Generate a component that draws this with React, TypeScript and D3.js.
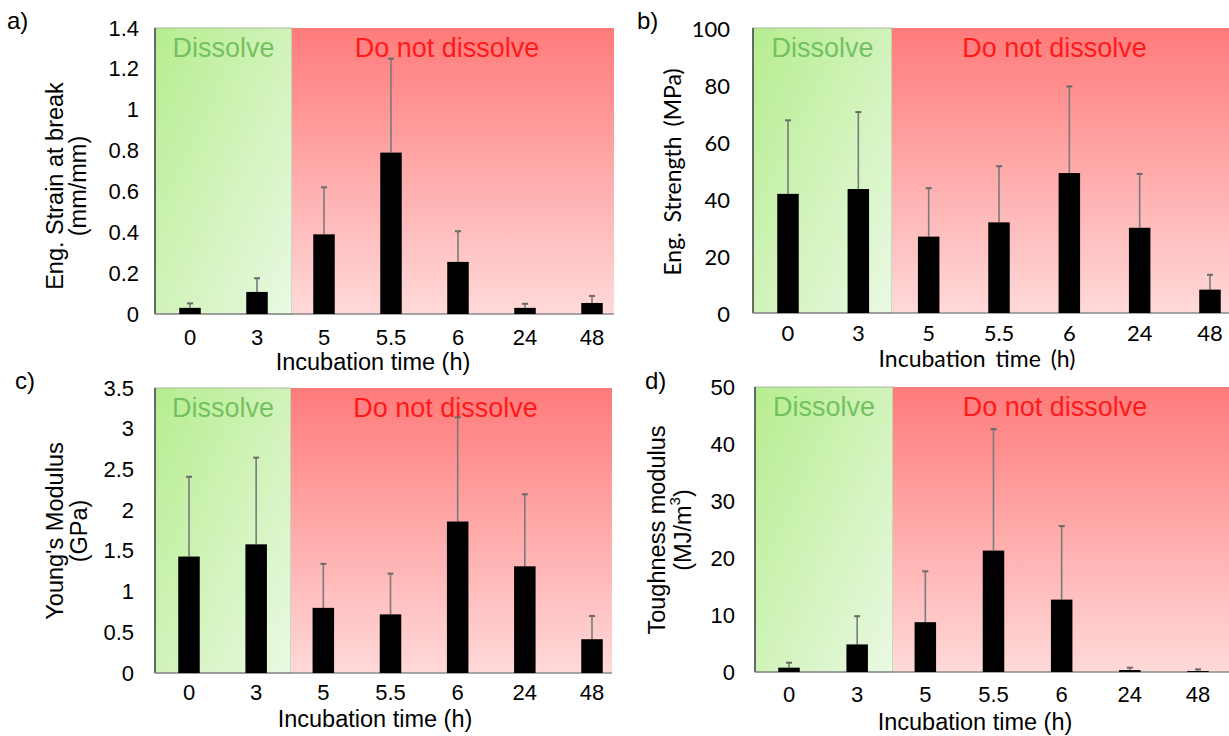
import React from "react";
import * as d3 from "d3";

const categories = ["0", "3", "5", "5.5", "6", "24", "48"];

const strainMean = [0.03, 0.108, 0.39, 0.79, 0.255, 0.03, 0.054];
const strainSd = [0.022, 0.067, 0.23, 0.46, 0.15, 0.02, 0.034];

const strengthMean = [41.8, 43.5, 26.8, 31.8, 49.1, 29.9, 8.2];
const strengthSd = [25.8, 27.0, 17.0, 19.7, 30.4, 18.9, 5.2];

const modulusMean = [1.43, 1.58, 0.8, 0.72, 1.86, 1.31, 0.415];
const modulusSd = [0.98, 1.065, 0.54, 0.5, 1.28, 0.885, 0.285];

const toughMean = [0.76, 4.84, 8.74, 21.3, 12.7, 0.35, 0.17];
const toughSd = [0.87, 4.95, 8.92, 21.3, 12.9, 0.41, 0.3];

const strainTicks = [0, 0.2, 0.4, 0.6, 0.8, 1, 1.2, 1.4];
const strengthTicks = [0, 20, 40, 60, 80, 100];
const modulusTicks = [0, 0.5, 1, 1.5, 2, 2.5, 3, 3.5];
const toughTicks = [0, 10, 20, 30, 40, 50];

const dissolveText = "Dissolve";
const notDissolveText = "Do not dissolve";
const xTitle = "Incubation time (h)";

type PanelProps = {
  id: string;
  letter: string;
  letterPos: [number, number];
  left: number;
  right: number;
  top: number;
  bottom: number;
  greenEnd: number;
  barRange: [number, number];
  tickRight: number;
  tickY: number;
  xTitlePos: [number, number];
  yTitle: React.ReactNode[];
  yTitleX: number[];
  yTitleCenter: number;
  ticks: number[];
  means: number[];
  sds: number[];
  font: string;
  tickSize: number;
  titleSize: number;
  wordSpacing?: number;
};

const SANS = "Liberation Sans, Arial, sans-serif";

function Panel(p: PanelProps) {
  const yMax = p.ticks[p.ticks.length - 1];
  const y = d3.scaleLinear().domain([0, yMax]).range([p.bottom, p.top]);
  const x = d3.scalePoint<string>().domain(categories).range(p.barRange);
  const bw = 21.5;
  const capW = 6;
  return (
    <g>
      <defs>
        <linearGradient id={`g-${p.id}`} x1="0" y1="0" x2="1" y2="1">
          <stop offset="0" stopColor="#b6ed8f" />
          <stop offset="1" stopColor="#eaf9e3" />
        </linearGradient>
        <linearGradient id={`r-${p.id}`} x1="0" y1="0" x2="0" y2="1">
          <stop offset="0" stopColor="#ff7b7b" />
          <stop offset="1" stopColor="#ffd9d9" />
        </linearGradient>
      </defs>
      <rect
        x={p.left}
        y={p.top}
        width={p.greenEnd - p.left}
        height={p.bottom - p.top}
        fill={`url(#g-${p.id})`}
        stroke="#a9b8a0"
        strokeWidth={1}
      />
      <rect
        x={p.greenEnd}
        y={p.top}
        width={p.right - p.greenEnd}
        height={p.bottom - p.top}
        fill={`url(#r-${p.id})`}
      />
      <line x1={p.left} x2={p.left} y1={p.top} y2={p.bottom} stroke="#444" strokeWidth={1.5} />
      <line x1={p.left} x2={p.right} y1={p.bottom} y2={p.bottom} stroke="#8a8a8a" strokeWidth={1.5} />
      <text
        x={(p.left + p.greenEnd) / 2}
        y={p.top + 20}
        textAnchor="middle"
        dominantBaseline="central"
        fontFamily={SANS}
        fontSize={27}
        fill="#68bb56"
        fillOpacity={0.9}
      >
        {dissolveText}
      </text>
      <text
        x={(p.greenEnd + p.right) / 2 - 6}
        y={p.top + 20}
        textAnchor="middle"
        dominantBaseline="central"
        fontFamily={SANS}
        fontSize={27}
        fill="#ff1a1a"
      >
        {notDissolveText}
      </text>
      {categories.map((c, i) => {
        const cx = x(c) as number;
        const top = y(p.means[i]);
        const eTop = y(p.means[i] + p.sds[i]);
        return (
          <g key={c}>
            <line x1={cx} x2={cx} y1={top} y2={eTop} stroke="#7a7a7a" strokeWidth={1.6} />
            <line x1={cx - capW / 2} x2={cx + capW / 2} y1={eTop} y2={eTop} stroke="#6a6a6a" strokeWidth={2} />
            <rect x={cx - bw / 2} y={top} width={bw} height={p.bottom - top} fill="#000" />
          </g>
        );
      })}
      {p.ticks.map((t) => (
        <text
          key={t}
          x={p.tickRight}
          y={y(t)}
          textAnchor="end"
          dominantBaseline="central"
          fontFamily={p.font}
          fontSize={p.tickSize}
          fill="#000"
        >
          {String(t)}
        </text>
      ))}
      {categories.map((c) => (
        <text
          key={c}
          x={x(c) as number}
          y={p.tickY}
          textAnchor="middle"
          dominantBaseline="central"
          fontFamily={p.font}
          fontSize={p.tickSize}
          fill="#000"
        >
          {c}
        </text>
      ))}
      <text
        x={p.xTitlePos[0]}
        y={p.xTitlePos[1]}
        textAnchor="middle"
        dominantBaseline="central"
        fontFamily={p.font}
        fontSize={p.titleSize}
        wordSpacing={p.wordSpacing || 0}
        fill="#000"
      >
        {xTitle}
      </text>
      {p.yTitle.map((t, i) => (
        <text
          key={i}
          transform={`translate(${p.yTitleX[i]},${p.yTitleCenter}) rotate(-90)`}
          textAnchor="middle"
          dominantBaseline="central"
          fontFamily={p.font}
          fontSize={p.titleSize}
          wordSpacing={p.wordSpacing || 0}
          fill="#000"
        >
          {t}
        </text>
      ))}
      <text
        x={p.letterPos[0]}
        y={p.letterPos[1]}
        dominantBaseline="central"
        fontFamily={SANS}
        fontSize={24}
        fill="#000"
      >
        {p.letter}
      </text>
    </g>
  );
}

export default function App() {
  return (
    <svg
      width={1229}
      height={736}
      style={{ position: "absolute", left: 0, top: 0, background: "#fff" }}
    >
      <rect x={0} y={0} width={1229} height={736} fill="#fff" />
      <Panel
        id="a"
        letter="a)"
        letterPos={[7, 20]}
        left={155}
        right={614}
        top={28}
        bottom={314}
        greenEnd={292}
        barRange={[190, 592]}
        tickRight={139}
        tickY={337}
        xTitlePos={[373, 362]}
        yTitle={["Eng. Strain at break", "(mm/mm)"]}
        yTitleX={[55, 78]}
        yTitleCenter={186}
        ticks={strainTicks}
        means={strainMean}
        sds={strainSd}
        font={SANS}
        tickSize={22}
        titleSize={23.5}
      />
      <Panel
        id="b"
        letter="b)"
        letterPos={[637, 20]}
        left={753}
        right={1229}
        top={28}
        bottom={313}
        greenEnd={892}
        barRange={[788, 1210]}
        tickRight={730}
        tickY={332}
        xTitlePos={[977, 358]}
        yTitle={["Eng. Strength (MPa)"]}
        yTitleX={[672]}
        yTitleCenter={172}
        ticks={strengthTicks}
        means={strengthMean}
        sds={strengthSd}
        font={"Lato, Liberation Sans, sans-serif"}
        tickSize={22}
        titleSize={23}
        wordSpacing={4}
      />
      <Panel
        id="c"
        letter="c)"
        letterPos={[15, 380]}
        left={155}
        right={612}
        top={388}
        bottom={673}
        greenEnd={291}
        barRange={[189, 592]}
        tickRight={134}
        tickY={692}
        xTitlePos={[375, 719]}
        yTitle={["Young's Modulus", "(GPa)"]}
        yTitleX={[55, 79]}
        yTitleCenter={531}
        ticks={modulusTicks}
        means={modulusMean}
        sds={modulusSd}
        font={SANS}
        tickSize={22}
        titleSize={23.5}
      />
      <Panel
        id="d"
        letter="d)"
        letterPos={[645, 380]}
        left={755}
        right={1229}
        top={387}
        bottom={672}
        greenEnd={893}
        barRange={[789, 1198]}
        tickRight={735}
        tickY={694}
        xTitlePos={[975, 722]}
        yTitle={[
          "Toughness modulus",
          <tspan key="u">
            (MJ/m<tspan baselineShift="super" fontSize={15}>3</tspan>)
          </tspan>,
        ]}
        yTitleX={[657, 683]}
        yTitleCenter={530}
        ticks={toughTicks}
        means={toughMean}
        sds={toughSd}
        font={SANS}
        tickSize={22}
        titleSize={23.5}
      />
    </svg>
  );
}
